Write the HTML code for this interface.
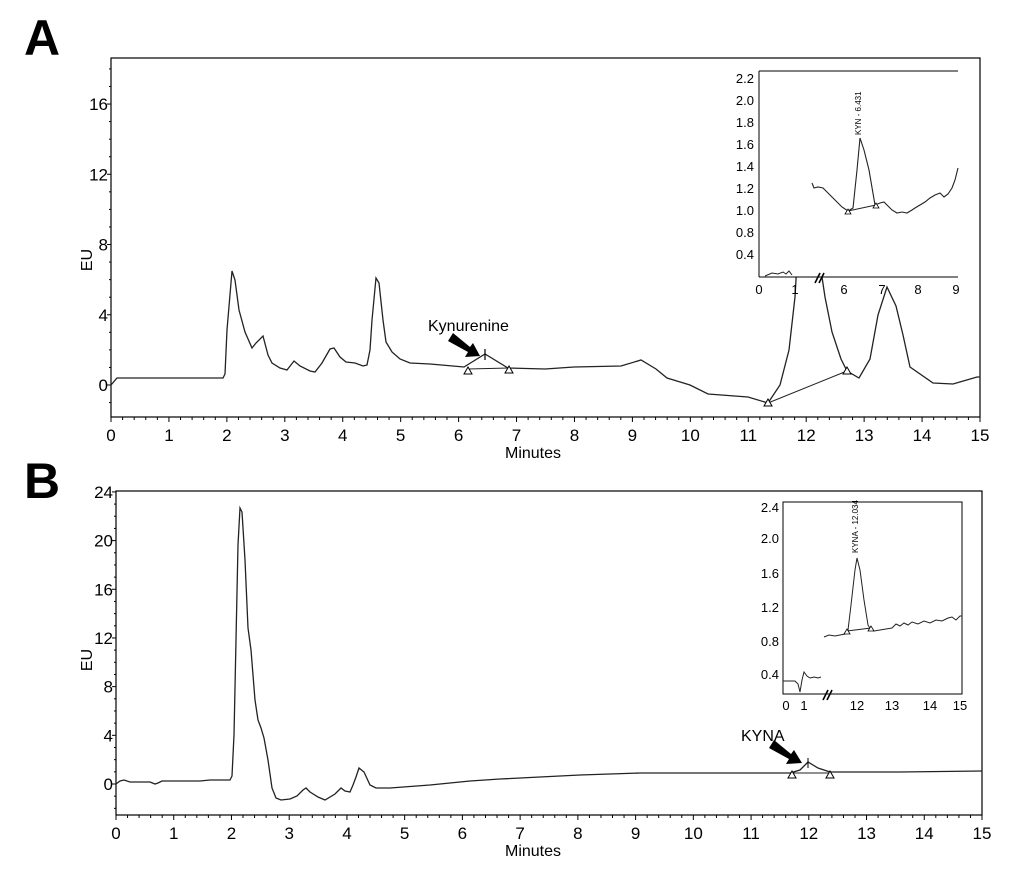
<!DOCTYPE html>
<html><head><meta charset="utf-8"><style>
html,body{margin:0;padding:0;background:#fff;}
svg{display:block;font-family:"Liberation Sans",Arial,sans-serif;}
</style></head><body>
<svg id="s" width="1018" height="874" viewBox="0 0 1018 874" xmlns="http://www.w3.org/2000/svg">
<rect width="1018" height="874" fill="#fff"/>
<text x="24" y="55" font-size="50" font-weight="bold">A</text>
<text x="24" y="498" font-size="50" font-weight="bold">B</text>

<!-- Panel A frame -->
<rect x="111" y="58" width="869" height="359" fill="none" stroke="#000" stroke-width="1.2"/>
<g id="axA"></g>
<text x="88" y="260" font-size="16" transform="rotate(-90 88 260)" text-anchor="middle" dominant-baseline="middle">EU</text>
<text x="533" y="458" font-size="16" text-anchor="middle">Minutes</text>
<polyline fill="none" stroke="#222" stroke-width="1.3" points="111,385 117,378 223,378 225,374 227,330 232,271 235,280 239,310 245,332 252,348 256,343 263,336 268,355 272,363 280,368 287,370 294,361 300,366 310,371 315,372 322,363 330,349 334,348 340,357 346,362 355,363 363,366 367,365 370,350 372,320 376,278 379,283 383,320 386,342 392,352 400,359 410,363 430,364 464,367 485,354 508,368 545,369 574,367 621,366 641,360 656,369 667,378 690,385 708,394 748,397 768,403 780,385 789,350 795,297 798,245 812,245 822,277 825,297 832,332 841,359 847,371 859,378 870,359 878,315 887,287 896,306 903,335 910,367 933,383 953,384 977,377 980,377"/>
<polyline fill="none" stroke="#222" stroke-width="1" points="468,369 509,368"/>
<polyline fill="none" stroke="#222" stroke-width="1" points="768,403 847,371"/>
<line x1="485" y1="349" x2="485" y2="360" stroke="#000" stroke-width="1.2"/>
<g fill="#fff" stroke="#000" stroke-width="1">
<polygon points="464,374 472,374 468,367"/><polygon points="505,373 513,373 509,366"/>
<polygon points="764,406 772,406 768,399"/><polygon points="843,374 851,374 847,367"/>
</g>
<text x="428" y="331" font-size="16">Kynurenine</text>
<polygon points="453,333 448,341 468,352 465,357 480,356 473,343 470,347" fill="#000"/>

<!-- Inset A -->
<rect x="760" y="71" width="198" height="206" fill="#fff"/>
<line x1="759" y1="71" x2="958" y2="71" stroke="#000" stroke-width="1"/>
<line x1="759" y1="71" x2="759" y2="277" stroke="#000" stroke-width="1"/>
<line x1="759" y1="277" x2="958" y2="277" stroke="#000" stroke-width="1"/>
<g font-size="13" text-anchor="end">
<text x="754" y="83">2.2</text><text x="754" y="105">2.0</text><text x="754" y="127">1.8</text><text x="754" y="149">1.6</text><text x="754" y="171">1.4</text><text x="754" y="193">1.2</text><text x="754" y="215">1.0</text><text x="754" y="237">0.8</text><text x="754" y="259">0.4</text>
</g>
<g font-size="13" text-anchor="middle">
<text x="759" y="294">0</text><text x="795" y="294">1</text><text x="844" y="294">6</text><text x="882" y="294">7</text><text x="918" y="294">8</text><text x="956" y="294">9</text>
</g>
<g stroke="#000" stroke-width="1.6"><line x1="815" y1="283" x2="820" y2="273"/><line x1="819" y1="283" x2="824" y2="273"/></g>
<polyline fill="none" stroke="#222" stroke-width="1" points="765,276 772,273 778,274 783,272 786,274 789,271 792,275"/>
<polyline fill="none" stroke="#222" stroke-width="1.1" points="812,183 814,188 818,187 823,188 828,193 835,200 842,207 848,211 853,208 857,170 860,138 864,150 869,170 875,205 880,203 884,202 887,205 892,210 897,213 902,212 907,213 912,210 915,208 920,205 925,202 930,198 935,195 940,193 944,197 948,194 952,188 955,180 958,168"/>
<line x1="848" y1="211" x2="876" y2="205" stroke="#222" stroke-width="0.9"/>
<g fill="#fff" stroke="#000" stroke-width="0.8"><polygon points="845,214 851,214 848,209"/><polygon points="873,208 879,208 876,203"/></g>
<text x="861" y="135" font-size="8" transform="rotate(-90 861 135)">KYN - 6.431</text>

<!-- Panel B -->
<rect x="116" y="491" width="866" height="324" fill="none" stroke="#000" stroke-width="1.2"/>
<g id="axB"></g>
<text x="88" y="660" font-size="16" transform="rotate(-90 88 660)" text-anchor="middle" dominant-baseline="middle">EU</text>
<text x="533" y="856" font-size="16" text-anchor="middle">Minutes</text>
<polyline fill="none" stroke="#222" stroke-width="1.3" points="116,784 120,781 124,780 130,782 150,782 155,784 158,783 162,781 200,781 210,780 230,780 232,776 234,735 236,640 238,545 240,508 242,512 245,560 248,628 251,650 255,700 258,720 261,728 264,738 268,760 272,788 276,798 281,800 290,799 297,796 303,790 306,788 310,792 318,797 325,800 335,794 341,788 345,791 350,792 353,785 356,777 359,768 364,772 370,785 376,788 390,788 430,785 470,781 500,779 540,777 580,775 640,773 700,773 790,773 800,770 808,762 818,768 830,772 900,772 982,771"/>
<line x1="792" y1="773" x2="830" y2="773" stroke="#222" stroke-width="1"/>
<line x1="808" y1="758" x2="808" y2="768" stroke="#000" stroke-width="1"/>
<g fill="#fff" stroke="#000" stroke-width="1"><polygon points="788,778 796,778 792,771"/><polygon points="826,778 834,778 830,771"/></g>
<text x="741" y="741" font-size="16">KYNA</text>
<polygon points="774,740 769,748 789,759 786,764 802,763 794,750 791,754" fill="#000"/>

<!-- Inset B -->
<rect x="783" y="502" width="179" height="192" fill="#fff" stroke="#000" stroke-width="1"/>
<g font-size="13" text-anchor="end">
<text x="779" y="512">2.4</text><text x="779" y="543">2.0</text><text x="779" y="578">1.6</text><text x="779" y="612">1.2</text><text x="779" y="646">0.8</text><text x="779" y="679">0.4</text>
</g>
<g font-size="13" text-anchor="middle">
<text x="786" y="710">0</text><text x="804" y="710">1</text><text x="857" y="710">12</text><text x="892" y="710">13</text><text x="930" y="710">14</text><text x="960" y="710">15</text>
</g>
<g stroke="#000" stroke-width="1.6"><line x1="823" y1="700" x2="828" y2="690"/><line x1="827" y1="700" x2="832" y2="690"/></g>
<polyline fill="none" stroke="#222" stroke-width="1" points="783,681 795,681 798,684 800,692 802,680 804,672 807,676 810,678 814,677 818,678 821,677"/>
<polyline fill="none" stroke="#222" stroke-width="1" points="824,637 829,635 835,636 840,635 845,634 848,630 851,605 855,570 857,558 860,570 864,600 868,625 871,630 874,631 880,630 886,629 892,628 896,624 900,626 904,623 908,625 912,622 918,624 924,621 930,623 936,620 942,621 948,618 952,617 956,620 960,616 962,616"/>
<line x1="847" y1="631" x2="871" y2="628" stroke="#222" stroke-width="0.9"/>
<g fill="#fff" stroke="#000" stroke-width="0.8"><polygon points="844,634 850,634 847,629"/><polygon points="868,631 874,631 871,626"/></g>
<text x="858" y="553" font-size="8" transform="rotate(-90 858 553)">KYNA - 12.034</text>
</svg>
<script>
function ticks(g,x0,x1,yb,yTop,yZeroPix,perUnit,yStep,labels){
  var s="";
  var px=(x1-x0)/15;
  for(var i=0;i<=15;i++){var x=x0+i*px;
    s+='<line x1="'+x+'" y1="'+yb+'" x2="'+x+'" y2="'+(yb+5)+'" stroke="#000"/>';
    s+='<text x="'+x+'" y="'+(yb+24)+'" font-size="17" text-anchor="middle">'+i+'</text>';
    if(i<15)for(var k=1;k<5;k++){var xm=x+k*px/5;s+='<line x1="'+xm+'" y1="'+yb+'" x2="'+xm+'" y2="'+(yb+3)+'" stroke="#000"/>';}
  }
  for(var v=labels[0];v<=labels[1];v+=1){var y=yZeroPix-v*perUnit; if(y<yTop-2||y>yb-1)continue;
    var maj=(v%yStep==0);
    s+='<line x1="'+(x0-(maj?4:2))+'" y1="'+y+'" x2="'+x0+'" y2="'+y+'" stroke="#000"/>';
    if(maj)s+='<text x="'+(x0-3)+'" y="'+(y+6)+'" font-size="17" text-anchor="end">'+v+'</text>';
  }
  document.getElementById(g).innerHTML=s;
}
ticks("axA",111,980,417,58,385,17.56,4,[-2,18]);
ticks("axB",116,982,815,491,784,12.17,4,[-2,24]);
</script>
</body></html>
